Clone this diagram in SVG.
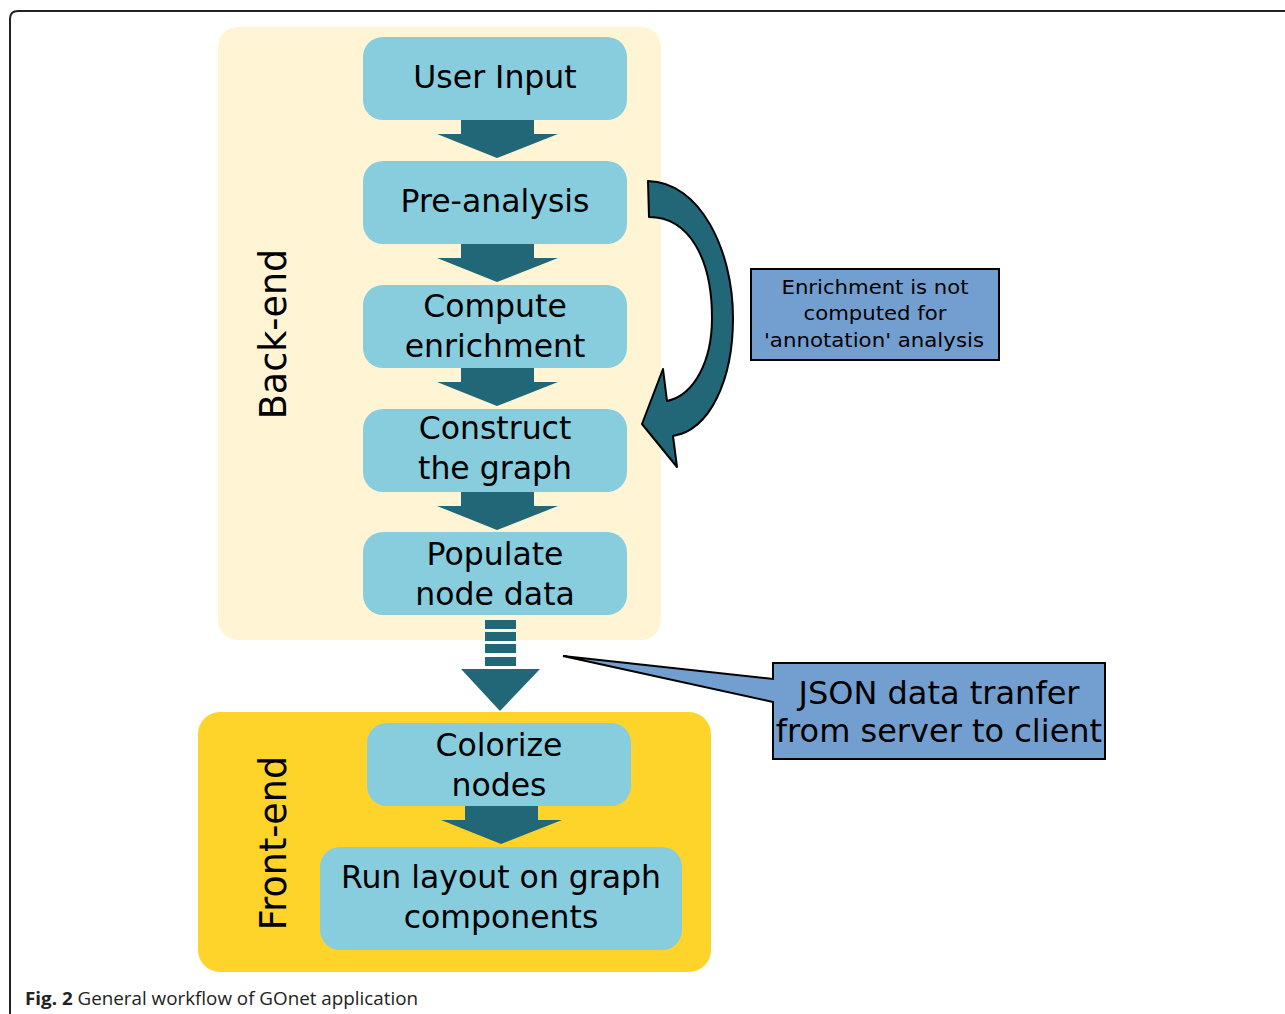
<svg xmlns="http://www.w3.org/2000/svg" width="1285" height="1014" viewBox="0 0 1285 1014">
<style>
.box{fill:#87CDDE;}
.arr{fill:#216778;}
.t{font-family:"DejaVu Sans",sans-serif;font-size:31.5px;fill:#000;text-anchor:middle;}
.lbl{font-family:"DejaVu Sans",sans-serif;font-size:36.5px;fill:#000;text-anchor:middle;}
.call{fill:#729FCF;stroke:#000;stroke-width:2;}
.n{font-family:"DejaVu Sans",sans-serif;font-size:20px;fill:#000;text-anchor:middle;}
</style>
<rect width="1285" height="1014" fill="#fff"/>
<path d="M10,1014 L10,19 Q10,11 18,11 L1290,11" fill="none" stroke="#222" stroke-width="2"/>
<g id="backend-panel">
<rect x="218" y="27" width="443" height="613" rx="20" fill="#FFF5D5"/>
<text class="lbl" transform="translate(286,334) rotate(-90)">Back-end</text>
</g>
<g id="frontend-panel">
<rect x="198" y="712" width="513" height="260" rx="22" fill="#FFD42A"/>
<text class="lbl" transform="translate(286,843) rotate(-90)">Front-end</text>
</g>
<g id="connectors">
<polygon class="arr" points="461,118 534,118 534,134 558,134 497,158 437,134 461,134"/>
<polygon class="arr" points="461,242 534,242 534,258 558,258 497,282 437,258 461,258"/>
<polygon class="arr" points="461,366 534,366 534,382 558,382 497,406 437,382 461,382"/>
<polygon class="arr" points="461,490 534,490 534,506 558,506 497,530 437,506 461,506"/>
<polygon class="arr" points="465,804 538,804 538,820 562,820 501,844 441,820 465,820"/>
<g class="arr">
<rect x="485" y="620" width="31" height="9"/>
<rect x="485" y="632" width="31" height="9"/>
<rect x="485" y="644" width="31" height="9"/>
<rect x="485" y="657" width="31" height="9"/>
<polygon points="461,669 540,669 500,711"/>
</g>
<path class="arr" stroke="#000" stroke-width="2" stroke-linejoin="round" d="M648,181 C700,182 733,250 733,318 C733,380 710,430 673,436 L677,467 L642,424 L663,369 L667,401 C695,395 712,360 712,318 C712,260 690,217 649,217 Z"/>
</g>
<g id="user-input">
<rect class="box" x="363" y="37" width="264" height="83" rx="20"/>
<text class="t" x="495" y="88">User Input</text>
</g>
<g id="pre-analysis">
<rect class="box" x="363" y="161" width="264" height="83" rx="20"/>
<text class="t" x="495" y="212">Pre-analysis</text>
</g>
<g id="compute-enrichment">
<rect class="box" x="363" y="285" width="264" height="83" rx="20"/>
<text class="t" x="495" y="317">Compute</text>
<text class="t" x="495" y="357">enrichment</text>
</g>
<g id="construct-graph">
<rect class="box" x="363" y="409" width="264" height="83" rx="20"/>
<text class="t" x="495" y="439">Construct</text>
<text class="t" x="495" y="479">the graph</text>
</g>
<g id="populate-node-data">
<rect class="box" x="363" y="532" width="264" height="83" rx="20"/>
<text class="t" x="495" y="565">Populate</text>
<text class="t" x="495" y="605">node data</text>
</g>
<g id="colorize-nodes">
<rect class="box" x="367" y="723" width="264" height="83" rx="20"/>
<text class="t" x="499" y="756">Colorize</text>
<text class="t" x="499" y="796">nodes</text>
</g>
<g id="run-layout">
<rect class="box" x="320" y="847" width="362" height="103" rx="20"/>
<text class="t" x="501" y="888">Run layout on graph</text>
<text class="t" x="501" y="928">components</text>
</g>
<g id="enrichment-note">
<rect class="call" x="751" y="269" width="248" height="91" stroke-width="1.5"/>
<text class="n" x="875" y="294" textLength="187" lengthAdjust="spacingAndGlyphs">Enrichment is not</text>
<text class="n" x="875" y="320" textLength="143" lengthAdjust="spacingAndGlyphs">computed for</text>
<text class="n" x="874" y="347" textLength="220" lengthAdjust="spacingAndGlyphs">'annotation' analysis</text>
</g>
<g id="json-note">
<path class="call" d="M773,663 L1105,663 L1105,759 L773,759 L773,702 L563,656 L773,679 Z"/>
<text font-family="DejaVu Sans, sans-serif" font-size="32" text-anchor="middle" x="939" y="704">JSON data tranfer</text>
<text font-family="DejaVu Sans, sans-serif" font-size="32" text-anchor="middle" x="939" y="742">from server to client</text>
</g>
<text x="25" y="1005" font-family="Open Sans, sans-serif" font-size="18" fill="#222" textLength="393" lengthAdjust="spacingAndGlyphs"><tspan font-weight="bold">Fig. 2</tspan> General workflow of GOnet application</text>
</svg>
